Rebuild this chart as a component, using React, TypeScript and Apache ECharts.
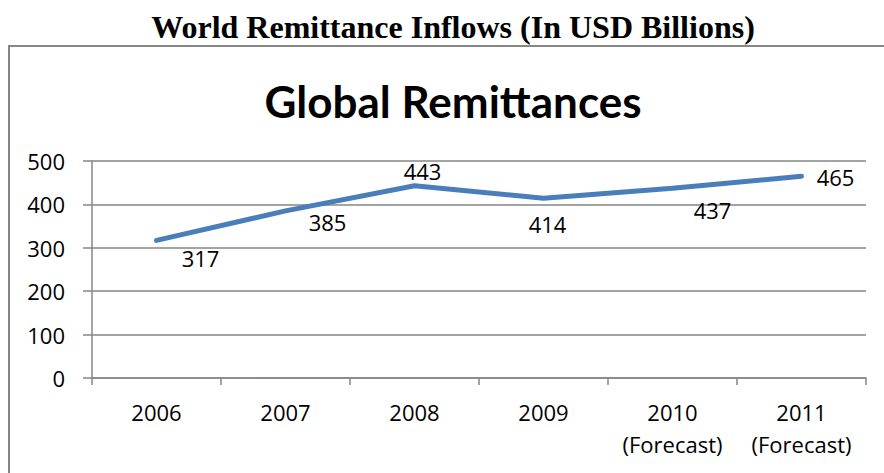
import React, { useEffect, useRef } from "react";
import * as echarts from "echarts";

const pageTitle = "World Remittance Inflows (In USD Billions)";
const chartTitle = "Global Remittances";
const categories = ["2006", "2007", "2008", "2009", "2010\n(Forecast)", "2011\n(Forecast)"];
const values = [317, 385, 443, 414, 437, 465];
const labelOffsets: [number, number][] = [
  [44, 18],
  [42, 11],
  [8, -15],
  [4, 26],
  [40, 22],
  [34, 1],
];

export default function App() {
  const ref = useRef<HTMLDivElement>(null);
  useEffect(() => {
    const chart = echarts.init(ref.current!, undefined, { renderer: "svg" });
    const grey = "#868686";
    const labelFont = "Open Sans";
    chart.setOption({
      animation: false,
      backgroundColor: "#ffffff",
      graphic: [
        {
          type: "rect",
          shape: { x: 9, y: 46, width: 900, height: 460 },
          style: { fill: "none", stroke: grey, lineWidth: 2 },
          z: 0,
        },
        {
          type: "text",
          x: 453,
          y: 27,
          style: {
            text: pageTitle,
            fontFamily: "Liberation Serif",
            fontWeight: "bold",
            fontSize: 32,
            fill: "#000",
            align: "center",
            verticalAlign: "middle",
          },
        },
        {
          type: "text",
          x: 453,
          y: 101,
          style: {
            text: chartTitle,
            fontFamily: "Lato",
            fontWeight: "bold",
            fontSize: 44,
            fill: "#000",
            align: "center",
            verticalAlign: "middle",
          },
        },
      ],
      grid: { left: 92, right: 18, top: 161, bottom: 95 },
      xAxis: {
        type: "category",
        data: categories,
        boundaryGap: true,
        axisLine: { show: true, lineStyle: { color: grey, width: 1.5 } },
        axisTick: { show: true, length: 7, lineStyle: { color: grey, width: 1.5 } },
        axisLabel: {
          color: "#000",
          fontFamily: labelFont,
          fontSize: 22,
          lineHeight: 32,
          margin: 18,
          interval: 0,
        },
        splitLine: { show: false },
      },
      yAxis: {
        type: "value",
        min: 0,
        max: 500,
        interval: 100,
        axisLine: { show: true, lineStyle: { color: grey, width: 1.5 } },
        axisTick: { show: true, length: 9, lineStyle: { color: grey, width: 1.5 } },
        axisLabel: {
          color: "#000",
          fontFamily: labelFont,
          fontSize: 22,
          margin: 27,
        },
        splitLine: { show: true, lineStyle: { color: grey, width: 1.5 } },
      },
      series: [
        {
          type: "line",
          data: values.map((v, i) => ({
            value: v,
            label: { offset: labelOffsets[i] },
          })),
          symbol: "circle",
          symbolSize: 0.1,
          showSymbol: true,
          lineStyle: { color: "#4A7EBB", width: 5, cap: "round" },
          itemStyle: { color: "#4A7EBB" },
          label: {
            show: true,
            position: "inside",
            color: "#000",
            fontFamily: labelFont,
            fontSize: 22,
          },
        },
      ],
    });
    return () => chart.dispose();
  }, []);
  return (
    <div
      ref={ref}
      style={{ position: "fixed", left: 0, top: 0, width: 884, height: 473 }}
    />
  );
}
